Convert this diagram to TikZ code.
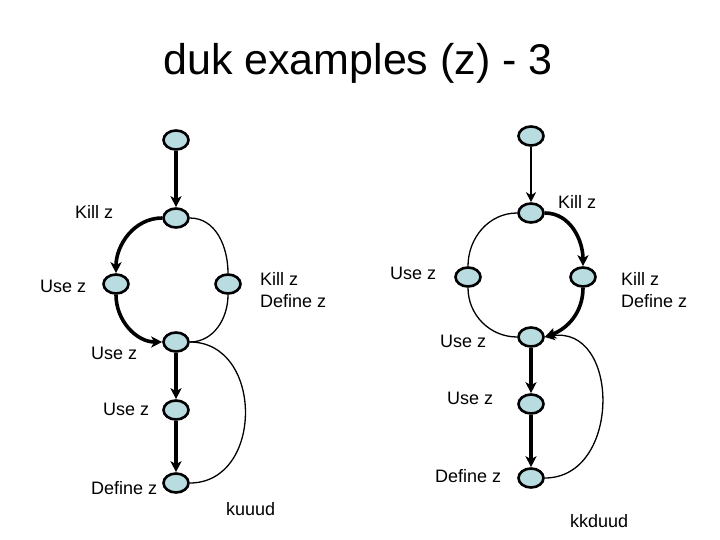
\documentclass[tikz,border=0pt]{standalone}
\usepackage{fontspec}
\setmainfont{Liberation Sans}
\usetikzlibrary{arrows.meta,shapes.geometric}
\definecolor{nodefill}{RGB}{185,220,224}
\tikzset{
  vtx/.style={ellipse, draw=black, line width=2.6pt, fill=nodefill, minimum width=25pt, minimum height=19pt, inner sep=0pt},
  lbl/.style={anchor=west, inner sep=0pt, font=\fontsize{18}{22}\selectfont, align=left},
  thickarr/.style={line width=3.6pt, -{Stealth[length=11pt,width=11pt,inset=3pt]}},
  medarr/.style={line width=2.8pt, -{Stealth[length=10pt,width=10pt,inset=3pt]}},
  thinline/.style={line width=1.3pt},
  thinarr/.style={line width=1.3pt, -{Stealth[length=10pt,width=10pt,inset=3pt]}},
}
\begin{document}
\begin{tikzpicture}[x=1pt,y=-1pt]
\useasboundingbox (0,0) rectangle (720,540);
\node[anchor=base, inner sep=0pt, font=\fontsize{43}{50}\selectfont] (title) at (358,75) {duk examples (z) - 3};

% ---------- left graph ----------
\node[vtx] (La) at (176,140) {};
\node[vtx] (Lk) at (176,218) {};
\node[vtx] (Lu) at (116,284) {};
\node[vtx] (Ld) at (228,284) {};
\node[vtx] (Lj) at (176,342) {};
\node[vtx] (Lv) at (176,410) {};
\node[vtx] (Lf) at (176,483) {};

\draw[thickarr] (La) -- (Lk);
\draw[thickarr] (Lk.west) to[out=180,in=90] (Lu.north);
\draw[thinline] (Lk.east) to[out=0,in=90] (Ld.north);
\draw[thickarr] (Lu.south) to[out=-90,in=180] (Lj.west);
\draw[thinline] (Ld.south) to[out=-90,in=0] (Lj.east);
\draw[thickarr] (Lj) -- (Lv);
\draw[thickarr] (Lv) -- (Lf);
\draw[thinline] (Lf.east) to[out=0,in=0,looseness=1.35] (Lj.east);

\node[lbl] (l1) at (75,212) {Kill z};
\node[lbl] (l2) at (40,286) {Use z};
\node[lbl] (l3) at (260,290) {Kill z\\Define z};
\node[lbl] (l4) at (91,353) {Use z};
\node[lbl] (l5) at (103,409) {Use z};
\node[lbl] (l6) at (91,488) {Define z};
\node[lbl] (l7) at (226,509) {kuuud};

% ---------- right graph ----------
\node[vtx] (Ra) at (531,136) {};
\node[vtx] (Rk) at (531,213) {};
\node[vtx] (Ru) at (468,277) {};
\node[vtx] (Rd) at (583,277) {};
\node[vtx] (Rj) at (531,337) {};
\node[vtx] (Rv) at (531,404) {};
\node[vtx] (Rf) at (531,478) {};

\draw[medarr] (Ra) -- (Rk);
\draw[thinline] (Rk.west) to[out=180,in=90] (Ru.north);
\draw[thickarr] (Rk.east) to[out=0,in=90] (Rd.north);
\draw[thinline] (Ru.south) to[out=-90,in=180] (Rj.west);
\draw[thickarr] (Rd.south) to[out=-90,in=20] (Rj.east);
\draw[thickarr] (Rj) -- (Rv);
\draw[thickarr] (Rv) -- (Rf);
\draw[thinarr] (Rf.east) to[out=0,in=10,looseness=1.4] (Rj.east);

\node[lbl] (r1) at (558,202) {Kill z};
\node[lbl] (r2) at (390,273) {Use z};
\node[lbl] (r3) at (621,290) {Kill z\\Define z};
\node[lbl] (r4) at (440,341) {Use z};
\node[lbl] (r5) at (447,398) {Use z};
\node[lbl] (r6) at (435,476) {Define z};
\node[lbl] (r7) at (570,521) {kkduud};
\end{tikzpicture}
\end{document}
